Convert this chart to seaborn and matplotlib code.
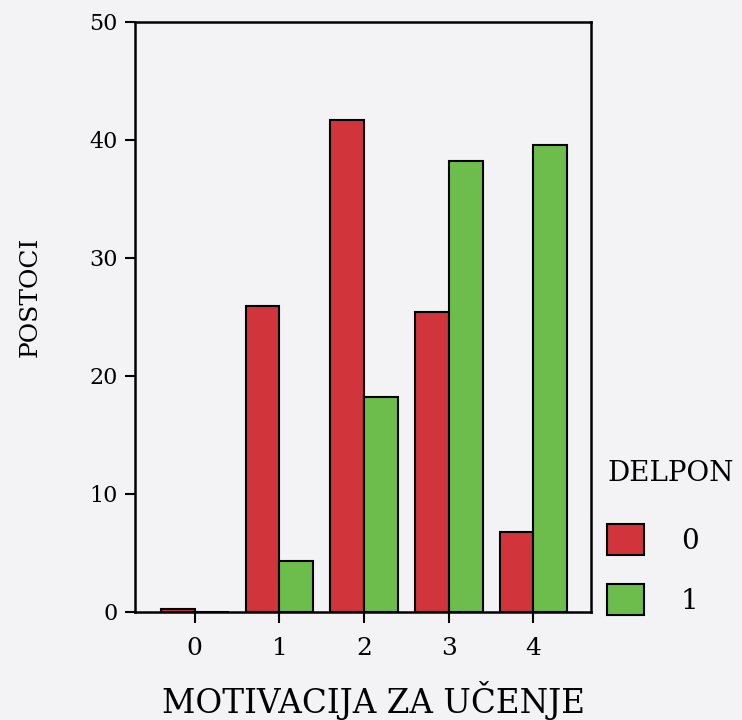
import matplotlib
matplotlib.use("Agg")
import matplotlib.pyplot as plt
import seaborn as sns
import pandas as pd

# ---- data ----
categories = ["0", "1", "2", "3", "4"]
delpon_levels = ["0", "1"]
values_delpon0 = [0.25, 25.9, 41.7, 25.4, 6.8]
values_delpon1 = [0.0, 4.3, 18.2, 38.2, 39.6]
y_ticks = [0, 10, 20, 30, 40, 50]

rows = []
for c, v in zip(categories, values_delpon0):
    rows.append({"MOTIVACIJA": c, "DELPON": "0", "POSTOCI": v})
for c, v in zip(categories, values_delpon1):
    rows.append({"MOTIVACIJA": c, "DELPON": "1", "POSTOCI": v})
df = pd.DataFrame(rows)

sns.set_theme(style="white")
plt.rcParams["font.family"] = ["DejaVu Serif", "DejaVu Sans"]
plt.rcParams["text.color"] = "black"
plt.rcParams["axes.labelcolor"] = "black"
plt.rcParams["xtick.color"] = "black"
plt.rcParams["ytick.color"] = "black"

bg = "#f3f3f5"
red = "#d2343c"
green = "#6cbd4c"

W, H = 742, 720
fig = plt.figure(figsize=(W / 100, H / 100), dpi=100, facecolor=bg)
ax = fig.add_axes([135 / W, 1 - 612 / H, 456 / W, 590 / H])
ax.set_facecolor(bg)

sns.barplot(data=df, x="MOTIVACIJA", y="POSTOCI", hue="DELPON",
            order=categories, hue_order=delpon_levels,
            palette=[red, green], saturation=1, width=0.8,
            edgecolor="black", linewidth=1.5, errorbar=None, ax=ax)

ax.set_xlim(-0.706, 4.68)
ax.set_ylim(0, 50)
ax.set_yticks(y_ticks)
ax.set_yticklabels([str(t) for t in y_ticks])

for s in ax.spines.values():
    s.set_color("black")
    s.set_linewidth(1.8)
    s.set_visible(True)

ax.tick_params(axis="both", which="both", direction="out", color="black",
               width=1.5, top=False, right=False, labelcolor="black")
ax.tick_params(axis="x", length=8, pad=10, labelsize=18, bottom=True)
ax.tick_params(axis="y", length=7.5, pad=5, labelsize=16, left=True)

ax.set_xlabel("MOTIVACIJA ZA UČENJE", fontsize=23.5, color="black")
ax.set_ylabel("POSTOCI", fontsize=18, color="black")
ax.xaxis.set_label_coords(0.522, -0.117)
ax.yaxis.set_label_coords(-0.205, 0.534)

handles, labels = ax.get_legend_handles_labels()
if ax.get_legend() is not None:
    ax.get_legend().remove()
leg = fig.legend(handles, labels, title="DELPON", loc="upper left",
                 bbox_to_anchor=(607 / W, 1 - 460 / H),
                 frameon=False, fontsize=20, title_fontsize=20,
                 handlelength=1.33, handleheight=1.34, labelspacing=1.04,
                 handletextpad=1.33, borderpad=0, borderaxespad=0,
                 alignment="left", labelcolor="black")
leg.get_title().set_color("black")
leg._legend_box.sep = 26.6

fig.savefig("out.png", dpi=100, facecolor=bg)
